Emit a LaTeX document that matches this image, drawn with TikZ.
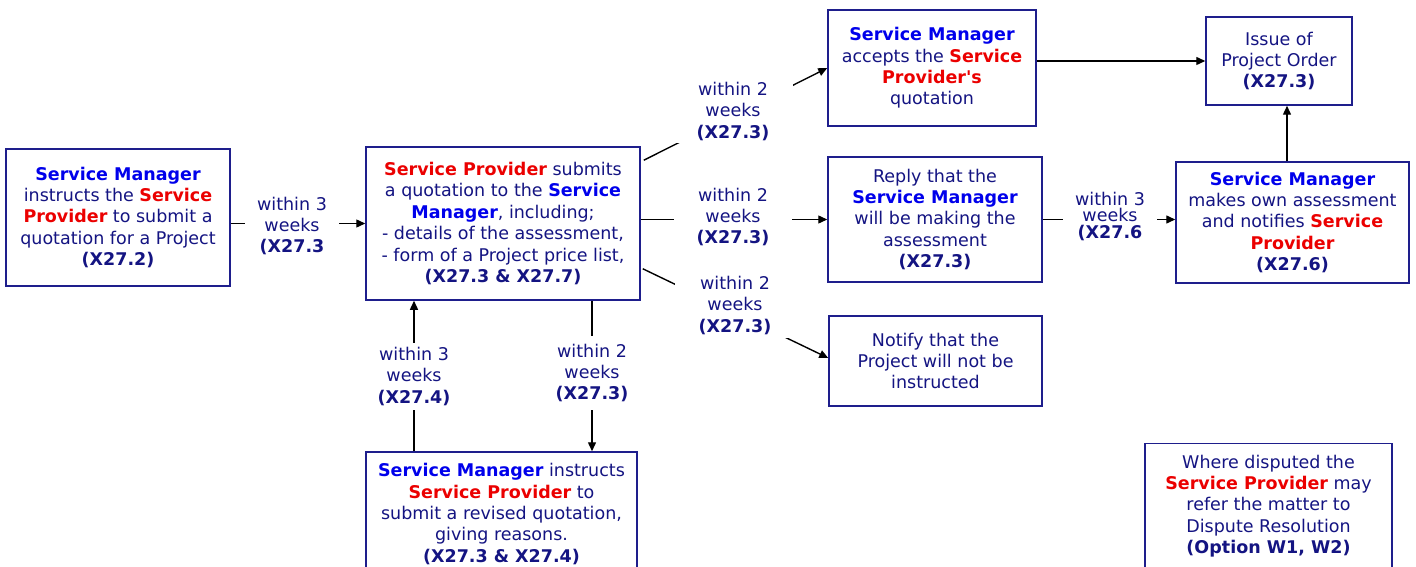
\documentclass[tikz,border=0pt]{standalone}
\usepackage{fontspec}
\setmainfont{DejaVu Sans}
\usetikzlibrary{arrows.meta,calc}
\definecolor{navytext}{RGB}{20,20,130}
\definecolor{boxline}{RGB}{30,30,140}
\definecolor{smblue}{RGB}{0,0,235}
\definecolor{spred}{RGB}{235,0,0}
\newcommand{\smname}{\textcolor{smblue}{\textbf{Service Manager}}}
\newcommand{\spname}{\textcolor{spred}{\textbf{Service Provider}}}
\newcommand{\smb}[1]{\textcolor{smblue}{\textbf{#1}}}
\newcommand{\spr}[1]{\textcolor{spred}{\textbf{#1}}}
\begin{document}
\begin{tikzpicture}[x=1pt,y=-1pt,
  font=\fontsize{17.5}{21.4}\selectfont,
  box/.style={draw=boxline, line width=1.5pt, align=center, inner sep=0pt, text=navytext, fill=white,
    execute at begin node={\rule{0pt}{19pt}}},
  lbl/.style={align=center, text=navytext, fill=white, inner xsep=13pt, inner ysep=2pt,
    execute at begin node={\rule{0pt}{19pt}}},
  vlbl/.style={align=center, text=navytext, fill=white, inner xsep=2pt, inner ysep=10pt,
    execute at begin node={\rule{0pt}{19pt}}},
  conn/.style={line width=1.4pt, draw=black},
  arr/.style={conn, -{Triangle[length=9pt,width=8pt]}}]
\path[use as bounding box] (0,0) rectangle (1416,567);
\clip (0,0) rectangle (1416,567);
\fill[white] (0,0) rectangle (1416,567);

% boxes
\node[box, minimum width=224pt, minimum height=137pt] (A) at (118,217.5)
  {\smname\\instructs the \spr{Service}\\\spr{Provider} to submit a\\quotation for a Project\\\textbf{(X27.2)}};
\node[box, minimum width=274pt, minimum height=153pt] (B) at (503,223.5)
  {\spname{} submits\\a quotation to the \smb{Service}\\\smb{Manager}, including;\\- details of the assessment,\\- form of a Project price list,\\\textbf{(X27.3 \& X27.7)}};
\node[box, minimum width=208pt, minimum height=116pt] (C) at (932,68)
  {\smname\\accepts the \spr{Service}\\\spr{Provider\textquotesingle s}\\quotation};
\node[box, minimum width=214pt, minimum height=125pt] (D) at (935,219.5)
  {Reply that the\\\smname\\will be making the\\assessment\\\textbf{(X27.3)}};
\node[box, minimum width=213pt, minimum height=90pt] (E) at (935.5,361)
  {Notify that the\\Project will not be\\instructed};
\node[box, minimum width=146pt, minimum height=88pt] (F) at (1279,61)
  {Issue of\\Project Order\\\textbf{(X27.3)}};
\node[box, minimum width=233pt, minimum height=121pt] (G) at (1292.5,222.5)
  {\smname\\makes own assessment\\and notifies \spr{Service}\\\spr{Provider}\\\textbf{(X27.6)}};
\node[box, minimum width=271pt, minimum height=124pt] (H) at (501.5,514)
  {\smname{} instructs\\\spname{} to\\submit a revised quotation,\\giving reasons.\\\textbf{(X27.3 \& X27.4)}};
\node[box, minimum width=247pt, minimum height=125pt] (I) at (1268.5,506)
  {Where disputed the\\\spname{} may\\refer the matter to\\Dispute Resolution\\\textbf{(Option W1, W2)}};

% connectors
\draw[arr] (A.east |- B.west) -- (B.west);
\node[lbl, inner xsep=12pt] (lab1) at (292,226) {within 3\\weeks\\\textbf{(X27.3}};

\draw[arr] ([xshift=3pt,yshift=-14pt]B.north east) -- (C.west);
\node[lbl, inner xsep=24pt] (lab2) at (733,111.5) {within 2\\weeks\\\textbf{(X27.3)}};

\draw[arr] (B.east |- D.west) -- (D.west);
\node[lbl, inner xsep=23pt] (lab3) at (733,217) {within 2\\weeks\\\textbf{(X27.3)}};

\draw[arr] ([xshift=2pt,yshift=32pt]B.south east) -- ([yshift=3pt]E.west);
\node[lbl, inner xsep=24pt, inner ysep=3pt] (lab4) at (735,305.5) {within 2\\weeks\\\textbf{(X27.3)}};

\draw[arr] (F.west -| C.east) -- (F.west);

\draw[arr] (D.east) -- (D.east -| G.west);
\node[lbl, inner xsep=12pt, font=\fontsize{17.5}{16.5}\selectfont] (lab5) at (1110,216.5) {within 3\\weeks\\\textbf{(X27.6}};

\draw[arr] ([xshift=-5.5pt]G.north) -- ([xshift=-5.5pt]G.north |- F.south);

\draw[arr] ([xshift=89pt]B.south) -- ([xshift=89pt]B.south |- H.north);
\node[vlbl, inner ysep=7.5pt] (lab6) at (592,373) {within 2\\weeks\\\textbf{(X27.3)}};

\draw[arr] ([xshift=-89pt]B.south |- H.north) -- ([xshift=-89pt]B.south);
\node[vlbl, inner ysep=4pt] (lab7) at (414,376.5) {within 3\\weeks\\\textbf{(X27.4)}};
\end{tikzpicture}
\end{document}
